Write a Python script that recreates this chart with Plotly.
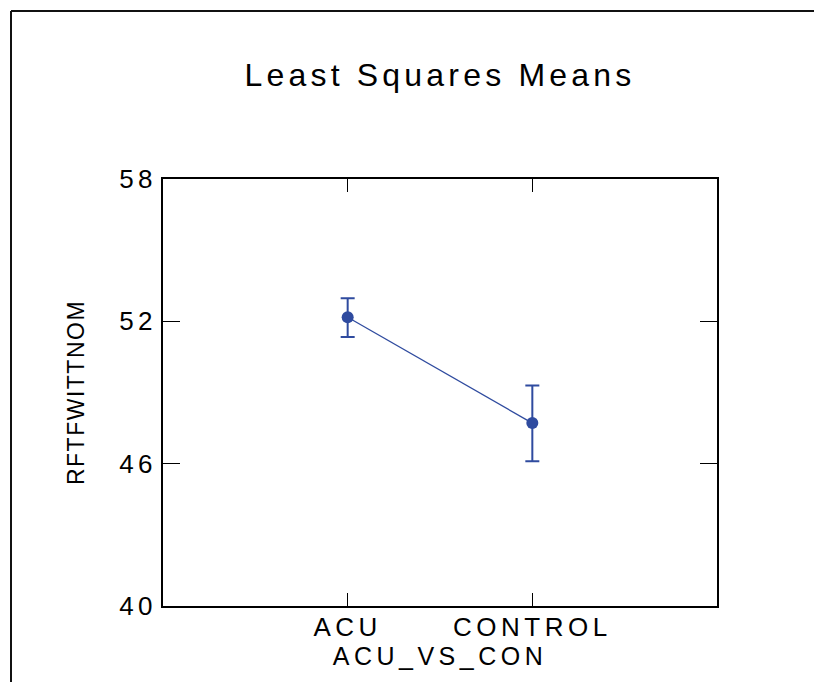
import plotly.graph_objects as go

# ---- data ----
categories = ["ACU", "CONTROL"]
cat_pos = [1, 2]
means = [52.17, 47.71]
err_upper = [0.80, 1.59]
err_lower = [0.83, 1.61]
y_ticks = [40, 46, 52, 58]

title_text = "Least Squares Means"
x_title = "ACU_VS_CON"
y_title = "RFTFWITTNOM"

BLUE = "#2F4B9F"
FONT = "Arial, 'Liberation Sans', sans-serif"

fig = go.Figure()
fig.add_trace(go.Scatter(
    x=cat_pos, y=means, mode="lines+markers",
    line=dict(color=BLUE, width=1.3),
    marker=dict(color=BLUE, size=12, symbol="circle"),
    error_y=dict(type="data", symmetric=False, array=err_upper, arrayminus=err_lower,
                 color=BLUE, thickness=2, width=7),
    showlegend=False, hoverinfo="skip",
))

W, H = 815, 682
L, R, T, B = 163, 98, 179, 76
pw, ph = W - L - R, H - T - B

# frame of the page (left and top edges only are visible)
fx0 = (11 - L) / pw
fy1 = (T + ph - 11) / ph
frame = [
    dict(type="line", xref="paper", yref="paper", x0=fx0, x1=fx0,
         y0=-(B + 5) / ph, y1=fy1, line=dict(color="#111111", width=2)),
    dict(type="line", xref="paper", yref="paper", x0=fx0, x1=(W - 1 - L) / pw,
         y0=fy1, y1=fy1, line=dict(color="#111111", width=2)),
]

fig.update_layout(
    width=W, height=H,
    margin=dict(l=L, r=R, t=T, b=B, pad=0),
    paper_bgcolor="white", plot_bgcolor="white",
    font=dict(family=FONT, color="black"),
    title=dict(text=title_text, x=0.5, xref="paper", xanchor="center",
               y=1 - 75 / H, yref="container", yanchor="middle",
               font=dict(size=32, family=FONT, color="black")),
    xaxis=dict(range=[0, 3], tickvals=cat_pos, ticktext=categories,
               showline=True, linecolor="black", linewidth=1.5, mirror="ticks",
               ticks="inside", ticklen=13, tickwidth=1, tickcolor="black",
               showgrid=False, zeroline=False, ticklabelstandoff=-3,
               tickfont=dict(size=26, family=FONT, color="black"),
               title=dict(text=x_title, standoff=5,
                          font=dict(size=25, family=FONT, color="black"))),
    yaxis=dict(range=[40, 58], tickvals=y_ticks,
               showline=True, linecolor="black", linewidth=1.5, mirror="ticks",
               ticks="inside", ticklen=17, tickwidth=1, tickcolor="black",
               showgrid=False, zeroline=False, ticklabelstandoff=-1,
               tickfont=dict(size=26, family=FONT, color="black"),
               title=dict(text=y_title, standoff=37,
                          font=dict(size=23, family=FONT, color="black"))),
    shapes=frame,
)

post = """
var gd = document.getElementById('{plot_id}');
function spaceText(){
  gd.querySelectorAll('.xtick text, .ytick text, text.xtitle').forEach(function(t){ t.style.letterSpacing = '4.5px'; });
  gd.querySelectorAll('text.gtitle').forEach(function(t){ t.style.letterSpacing = '4.2px'; });
  gd.querySelectorAll('text.ytitle').forEach(function(t){ t.style.letterSpacing = '1.5px'; });
}
spaceText();
gd.on('plotly_afterplot', spaceText);
"""

fig.write_html("out.html", post_script=post, config={"displayModeBar": False},
               include_plotlyjs=True, full_html=True)
